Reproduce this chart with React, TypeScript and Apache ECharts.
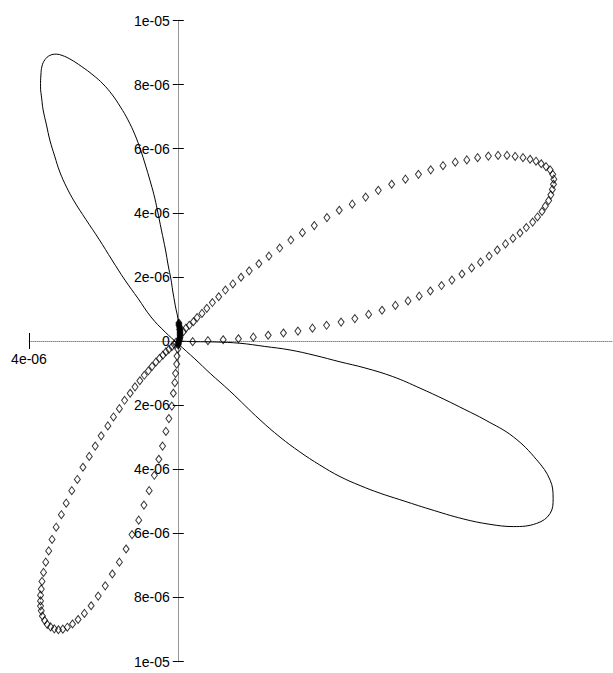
import { useEffect, useRef } from "react";
import * as echarts from "echarts";

// All coordinates below are in units of 1e-6.
const UNIT = 1e-6;

const xRange = [-4, 11.7];
const yRange = [-10, 10];

const xTickValues = [-4];
const xTickLabels = ["4e-06"];

const yTickValues = [-10, -8, -6, -4, -2, 0, 2, 4, 6, 8, 10];
const yTickLabels = [
  "1e-05", "8e-06", "6e-06", "4e-06", "2e-06", "0",
  "2e-06", "4e-06", "6e-06", "8e-06", "1e-05",
];

// Continuous curve: upper-left petal, then lower-right petal, back to the origin.
const solidCurve: [number, number][] = [
  [0.01, 0], [0.01, 0.56], [-0.07, 1.12], [-0.14, 1.59], [-0.18, 1.9], [-0.26, 2.37],
  [-0.33, 2.84], [-0.44, 3.46], [-0.55, 4.09], [-0.64, 4.56], [-0.75, 5.02], [-0.87, 5.49],
  [-1.0, 5.96], [-1.15, 6.43], [-1.34, 6.9], [-1.54, 7.3], [-1.76, 7.68], [-2.01, 8.02],
  [-2.28, 8.3], [-2.58, 8.56], [-2.9, 8.8], [-3.11, 8.91], [-3.26, 8.95], [-3.44, 8.91],
  [-3.57, 8.78], [-3.65, 8.58], [-3.68, 8.3], [-3.69, 7.93], [-3.66, 7.58], [-3.62, 7.21],
  [-3.53, 6.74], [-3.44, 6.27], [-3.31, 5.77], [-3.17, 5.27], [-2.99, 4.8], [-2.79, 4.37],
  [-2.47, 3.79], [-2.12, 3.18], [-1.77, 2.53], [-1.42, 1.9], [-1.07, 1.33], [-0.72, 0.75],
  [-0.34, 0.28], [0.01, -0.09], [0.46, -0.56], [0.87, -1.01], [1.4, -1.56], [2.21, -2.46],
  [2.75, -3.0], [3.28, -3.46], [3.82, -3.87], [4.36, -4.23], [4.9, -4.51], [5.44, -4.75],
  [5.97, -4.95], [6.78, -5.25], [7.67, -5.55], [8.39, -5.72], [9.02, -5.79], [9.65, -5.69],
  [10.01, -5.38], [10.09, -4.91], [10.01, -4.34], [9.65, -3.71], [9.02, -2.99], [8.26, -2.46],
  [7.72, -2.14], [7.18, -1.83], [6.51, -1.47], [5.78, -1.11], [5.03, -0.84], [4.36, -0.65],
  [3.69, -0.45], [3.02, -0.28], [2.34, -0.17], [1.67, -0.07], [1.0, -0.03], [0.46, -0.02],
  [0.01, 0],
];

// Sampled points, upper-right petal.
const diamondUpperRight: [number, number][] = [
  [0.15, 0.29], [0.22, 0.4], [0.31, 0.49], [0.42, 0.6], [0.52, 0.73], [0.65, 0.86],
  [0.78, 1.02], [0.93, 1.2], [1.1, 1.38], [1.28, 1.59], [1.48, 1.78], [1.7, 1.99],
  [1.92, 2.19], [2.18, 2.41], [2.45, 2.65], [2.74, 2.9], [3.04, 3.15], [3.35, 3.38],
  [3.67, 3.6], [4.01, 3.85], [4.34, 4.08], [4.69, 4.27], [5.05, 4.49], [5.39, 4.7],
  [5.75, 4.89], [6.12, 5.05], [6.47, 5.2], [6.8, 5.34], [7.13, 5.47], [7.46, 5.58],
  [7.77, 5.65], [8.06, 5.72], [8.35, 5.77], [8.61, 5.79], [8.85, 5.79], [9.07, 5.76],
  [9.28, 5.72], [9.47, 5.67], [9.63, 5.61], [9.77, 5.53], [9.9, 5.44], [10.01, 5.34],
  [10.08, 5.2], [10.11, 5.05], [10.1, 4.89], [10.07, 4.73], [10.03, 4.56], [9.97, 4.38],
  [9.88, 4.21], [9.79, 4.04], [9.67, 3.87], [9.54, 3.71], [9.37, 3.54], [9.2, 3.37],
  [9.01, 3.2], [8.81, 3.03], [8.59, 2.84], [8.37, 2.65], [8.14, 2.46], [7.9, 2.28],
  [7.64, 2.09], [7.37, 1.9], [7.09, 1.73], [6.79, 1.56], [6.49, 1.4], [6.19, 1.25],
  [5.85, 1.11], [5.49, 0.96], [5.13, 0.83], [4.76, 0.7], [4.39, 0.59], [4.0, 0.49],
  [3.62, 0.4], [3.23, 0.31], [2.84, 0.25], [2.43, 0.18], [2.03, 0.12], [1.63, 0.07],
  [1.22, 0.04], [0.81, 0.01], [0.4, -0.02],
];

// Sampled points, lower-left petal.
const diamondLowerLeft: [number, number][] = [
  [0.0, -0.25], [-0.02, -0.47], [-0.03, -0.72], [-0.06, -1.01], [-0.08, -1.3], [-0.12, -1.63],
  [-0.16, -2.03], [-0.24, -2.42], [-0.32, -2.82], [-0.41, -3.28], [-0.51, -3.69], [-0.63, -4.19],
  [-0.77, -4.67], [-0.91, -5.12], [-1.05, -5.59], [-1.23, -6.04], [-1.39, -6.49], [-1.57, -6.9],
  [-1.76, -7.27], [-1.95, -7.64], [-2.14, -7.96], [-2.33, -8.26], [-2.51, -8.5], [-2.68, -8.69],
  [-2.83, -8.83], [-2.97, -8.93], [-3.09, -8.99], [-3.21, -9.01], [-3.32, -8.98], [-3.42, -8.92],
  [-3.51, -8.84], [-3.58, -8.72], [-3.64, -8.58], [-3.67, -8.42], [-3.69, -8.27], [-3.69, -8.11],
  [-3.69, -7.93], [-3.67, -7.74], [-3.65, -7.5], [-3.61, -7.22], [-3.55, -6.9], [-3.47, -6.55],
  [-3.38, -6.19], [-3.27, -5.81], [-3.13, -5.42], [-3.0, -5.06], [-2.85, -4.67], [-2.7, -4.32],
  [-2.55, -3.94], [-2.38, -3.6], [-2.22, -3.28], [-2.06, -2.96], [-1.88, -2.65], [-1.73, -2.37],
  [-1.57, -2.11], [-1.43, -1.85], [-1.28, -1.63], [-1.15, -1.43], [-1.02, -1.24], [-0.9, -1.07],
  [-0.79, -0.93], [-0.69, -0.79], [-0.59, -0.66], [-0.49, -0.54], [-0.4, -0.44], [-0.32, -0.34],
  [-0.24, -0.26], [-0.16, -0.18], [-0.1, -0.1], [-0.05, -0.04],
];

// Tightly packed samples right at the origin.
const originCluster: [number, number][] = [
  [0.01, -0.12], [0.02, -0.06], [0.03, 0.0], [0.05, 0.06], [0.06, 0.12], [0.06, 0.19],
  [0.06, 0.25], [0.06, 0.31], [0.05, 0.37], [0.05, 0.44], [0.03, 0.5], [0.03, 0.56],
];

const toData = (pts: [number, number][]) => pts.map(([x, y]) => [x * UNIT, y * UNIT]);

const labelFor = (values: number[], labels: string[]) => (v: number) => {
  const i = values.findIndex((t) => Math.abs(t * UNIT - v) < 1e-9);
  return i >= 0 ? labels[i] : "";
};

const FONT = "'Liberation Sans Narrow', 'Liberation Sans', Arial, sans-serif";
const AXIS_GREY = "#8a8a8a";

// Plot area in page pixels.
const PLOT = { left: 29, right: 0, top: 20.5, bottom: 11.5 };
const W = 613;
const H = 673;

export default function App() {
  const ref = useRef<HTMLDivElement>(null);

  useEffect(() => {
    if (!ref.current) return;
    const chart = echarts.init(ref.current, null, { renderer: "svg" });

    const xMin = xRange[0] * UNIT;
    const xMax = xRange[1] * UNIT;
    const yMin = yRange[0] * UNIT;
    const yMax = yRange[1] * UNIT;
    const xTicks = xTickValues.map((v) => v * UNIT);
    const yTicks = yTickValues.map((v) => v * UNIT);

    // Where the data origin falls on the page: the axes are drawn through it.
    const plotW = W - PLOT.left - PLOT.right;
    const plotH = H - PLOT.top - PLOT.bottom;
    const originX = PLOT.left + ((0 - xMin) / (xMax - xMin)) * plotW;
    const originY = PLOT.top + ((yMax - 0) / (yMax - yMin)) * plotH;

    const labelStyle = { fontFamily: FONT, fontSize: 14, color: "#000" };
    const dotted = { color: AXIS_GREY, type: "dotted", width: 1 };
    const tickStyle = { color: "#000", width: 1 };
    const hidden = (gridIndex: number) => ({
      type: "value",
      gridIndex,
      show: false,
      min: 0,
      max: 1,
      axisLine: { onZero: false },
    });

    chart.setOption({
      animation: false,
      backgroundColor: "#fff",
      grid: [
        // data area
        { ...PLOT, containLabel: false, outerBoundsMode: "none" },
        // vertical axis through the origin
        {
          left: originX, right: PLOT.right, top: PLOT.top, bottom: PLOT.bottom,
          containLabel: false, outerBoundsMode: "none",
        },
        // horizontal axis through the origin
        {
          left: PLOT.left, right: PLOT.right, top: PLOT.top, bottom: H - originY,
          containLabel: false, outerBoundsMode: "none",
        },
      ],
      xAxis: [
        { type: "value", gridIndex: 0, show: false, min: xMin, max: xMax, axisLine: { onZero: false } },
        hidden(1),
        {
          type: "value",
          gridIndex: 2,
          min: xMin,
          max: xMax,
          position: "bottom",
          axisLine: { show: true, onZero: false, lineStyle: dotted },
          axisTick: { show: true, customValues: xTicks, length: 8, lineStyle: tickStyle },
          axisLabel: {
            show: true,
            customValues: xTicks,
            margin: 11,
            formatter: labelFor(xTickValues, xTickLabels),
            ...labelStyle,
          },
          splitLine: { show: false },
        },
        {
          type: "value",
          gridIndex: 2,
          min: xMin,
          max: xMax,
          position: "bottom",
          axisLine: { show: false, onZero: false },
          axisTick: { show: true, inside: true, customValues: xTicks, length: 8, lineStyle: tickStyle },
          axisLabel: { show: false },
          splitLine: { show: false },
        },
      ],
      yAxis: [
        { type: "value", gridIndex: 0, show: false, min: yMin, max: yMax, axisLine: { onZero: false } },
        {
          type: "value",
          gridIndex: 1,
          min: yMin,
          max: yMax,
          position: "left",
          axisLine: { show: true, onZero: false, lineStyle: dotted },
          axisTick: { show: true, customValues: yTicks, length: 5, lineStyle: tickStyle },
          axisLabel: {
            show: true,
            customValues: yTicks,
            margin: 8,
            formatter: labelFor(yTickValues, yTickLabels),
            ...labelStyle,
          },
          splitLine: { show: false },
        },
        {
          type: "value",
          gridIndex: 1,
          min: yMin,
          max: yMax,
          position: "left",
          axisLine: { show: false, onZero: false },
          axisTick: { show: true, inside: true, customValues: yTicks, length: 6, lineStyle: tickStyle },
          axisLabel: { show: false },
          splitLine: { show: false },
        },
        hidden(2),
      ],
      series: [
        {
          type: "line",
          xAxisIndex: 0,
          yAxisIndex: 0,
          data: toData(solidCurve),
          showSymbol: false,
          smooth: 0.4,
          lineStyle: { color: "#000", width: 1 },
          z: 2,
        },
        {
          type: "scatter",
          xAxisIndex: 0,
          yAxisIndex: 0,
          data: toData([...diamondUpperRight, ...diamondLowerLeft]),
          symbol: "diamond",
          symbolSize: [6, 8],
          itemStyle: { color: "rgba(0,0,0,0)", borderColor: "#000", borderWidth: 1 },
          z: 3,
        },
        {
          type: "scatter",
          xAxisIndex: 0,
          yAxisIndex: 0,
          data: toData(originCluster),
          symbol: "diamond",
          symbolSize: [6, 8],
          itemStyle: { color: "#000", borderColor: "#000", borderWidth: 1 },
          z: 3,
        },
      ],
    });

    return () => chart.dispose();
  }, []);

  return (
    <div
      ref={ref}
      style={{ position: "fixed", left: 0, top: 0, width: W, height: H, background: "#fff" }}
    />
  );
}
